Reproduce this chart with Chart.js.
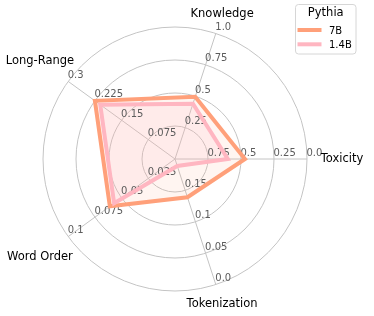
<!DOCTYPE html>
<html><head><meta charset="utf-8">
<script src="https://cdn.jsdelivr.net/npm/chart.js@4/dist/chart.umd.min.js"></script>
<style>html,body{margin:0;padding:0;background:#fff}#wrap{width:374px;height:316px}</style>
</head><body><div id="wrap"><canvas id="c" width="374" height="316"></canvas></div>
<script>
// Axes in Chart.js order (clockwise from the right)
const axes = ['Toxicity', 'Tokenization', 'Word Order', 'Long-Range', 'Knowledge'];
// value at the centre and at the outer ring for each axis
const axisCenter = [1.0, 0.2, 0.0, 0.0, 0.0];
const axisOuter  = [0.0, 0.0, 0.1, 0.3, 1.0];
// tick labels per axis, from inner ring to outer ring
const tickToxicity     = ['0.75', '0.5', '0.25', '0.0'];
const tickTokenization = ['0.15', '0.1', '0.05', '0.0'];
const tickWordOrder    = ['0.025', '0.05', '0.075', '0.1'];
const tickLongRange    = ['0.075', '0.15', '0.225', '0.3'];
const tickKnowledge    = ['0.25', '0.5', '0.75', '1.0'];
const tickLabels = [tickToxicity, tickTokenization, tickWordOrder, tickLongRange, tickKnowledge];
const ringValues = [0.25, 0.5, 0.75, 1.0];
// series
const legendTitle = 'Pythia';
const seriesNames = ['7B', '1.4B'];
const values7B   = [0.47, 0.139, 0.061, 0.225, 0.495];
const values1_4B = [0.60, 0.189, 0.057, 0.21, 0.44];

const norm = vals => vals.map((v, i) => (v - axisCenter[i]) / (axisOuter[i] - axisCenter[i]));

const FONT = '"DejaVu Sans", sans-serif';

const overlay = {
  id: 'overlay',
  beforeDatasetsDraw(chart) {
    const ctx = chart.ctx, s = chart.scales.r;
    ctx.save();
    ctx.font = '10px ' + FONT;
    ctx.fillStyle = '#5c5c5c';
    ctx.textAlign = 'left';
    ctx.textBaseline = 'alphabetic';
    tickLabels.forEach((labels, i) => {
      labels.forEach((t, k) => {
        const p = s.getPointPosition(i, s.getDistanceFromCenterForValue(ringValues[k]));
        ctx.fillText(t, p.x - 0.5, p.y - 3.5);
      });
    });
    ctx.restore();
  },
  afterDraw(chart) {
    const ctx = chart.ctx, s = chart.scales.r;
    ctx.save();
    // axis names
    ctx.font = '11.5px ' + FONT;
    ctx.fillStyle = '#000';
    ctx.textAlign = 'center';
    ctx.textBaseline = 'middle';
    axes.forEach((name, i) => {
      const ang = s.getIndexAngle(i) - Math.PI / 2;
      const pad = Math.abs(Math.cos(ang)) > 0.5 ? 35 : 20.5;
      const p = s.getPointPosition(i, s.drawingArea + pad);
      ctx.fillText(name, p.x, p.y);
    });
    // legend
    const bx = 295.5, by = 4.5, bw = 60.5, bh = 49.5, r = 3;
    ctx.beginPath();
    ctx.moveTo(bx + r, by);
    ctx.arcTo(bx + bw, by, bx + bw, by + bh, r);
    ctx.arcTo(bx + bw, by + bh, bx, by + bh, r);
    ctx.arcTo(bx, by + bh, bx, by, r);
    ctx.arcTo(bx, by, bx + bw, by, r);
    ctx.closePath();
    ctx.fillStyle = 'rgba(255,255,255,0.8)';
    ctx.fill();
    ctx.strokeStyle = '#d6d6d6';
    ctx.lineWidth = 1;
    ctx.stroke();
    ctx.fillStyle = '#000';
    ctx.textAlign = 'center';
    ctx.textBaseline = 'alphabetic';
    ctx.font = '11.5px ' + FONT;
    ctx.fillText(legendTitle, bx + bw / 2, 15.8);
    ctx.font = '10px ' + FONT;
    ctx.textAlign = 'left';
    chart.data.datasets.forEach((ds, j) => {
      const y = 30 + j * 14.3;
      ctx.strokeStyle = ds.borderColor;
      ctx.lineWidth = 4;
      ctx.lineCap = 'butt';
      ctx.beginPath();
      ctx.moveTo(297.5, y);
      ctx.lineTo(321.5, y);
      ctx.stroke();
      ctx.fillStyle = '#000';
      ctx.fillText(ds.label, 329, y + 3.6);
    });
    ctx.restore();
  }
};

new Chart(document.getElementById('c'), {
  type: 'radar',
  data: {
    labels: axes,
    datasets: [
      { label: seriesNames[0], data: norm(values7B), borderColor: '#FFA07A',
        backgroundColor: 'rgba(255,160,122,0.10)', borderWidth: 4, pointRadius: 0,
        fill: true, order: 1 },
      { label: seriesNames[1], data: norm(values1_4B), borderColor: '#FFB6C1',
        backgroundColor: 'rgba(255,182,193,0.15)', borderWidth: 4, pointRadius: 0,
        fill: true, order: 0 }
    ]
  },
  options: {
    responsive: false,
    animation: false,
    layout: { padding: { left: 43, right: 67, top: 27, bottom: 25 } },
    plugins: { legend: { display: false }, tooltip: { enabled: false },
               filler: { drawTime: 'beforeDatasetsDraw' } },
    elements: { line: { tension: 0, borderJoinStyle: 'miter' } },
    scales: {
      r: {
        min: 0, max: 1, startAngle: 90,
        ticks: { display: false, stepSize: 0.25 },
        grid: { circular: true, color: '#c4c4c4', lineWidth: 1 },
        angleLines: { display: true, color: '#c4c4c4', lineWidth: 1 },
        pointLabels: { display: false }
      }
    }
  },
  plugins: [overlay]
});
</script>
</body></html>
